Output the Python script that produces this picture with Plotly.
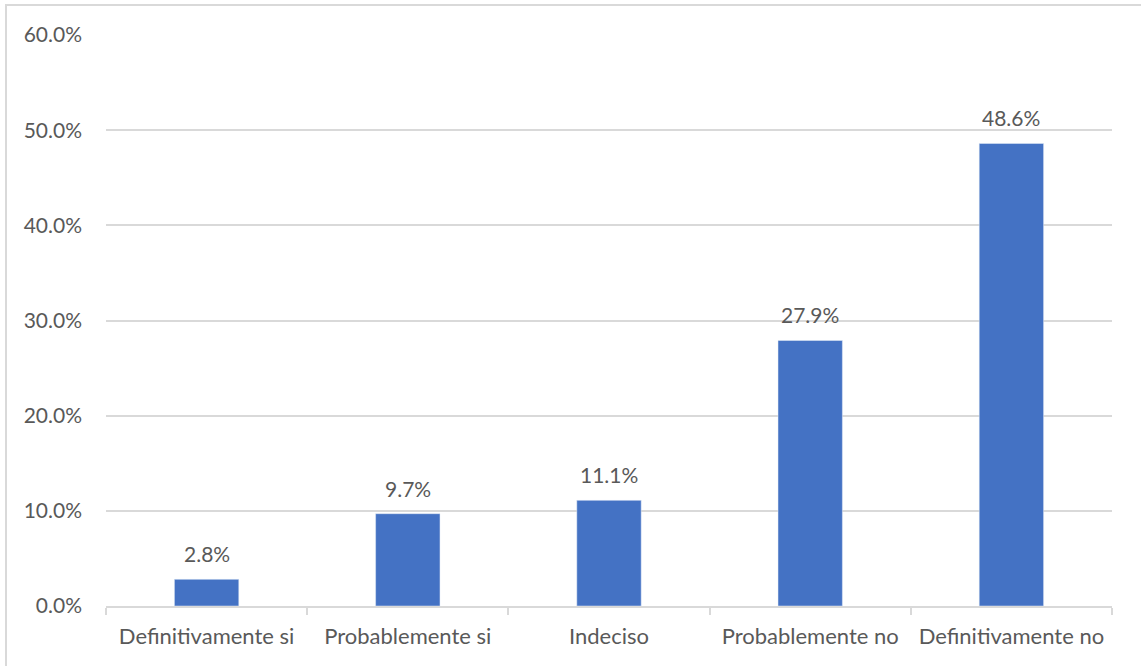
import plotly.graph_objects as go

categories = ["Definitivamente si", "Probablemente si", "Indeciso", "Probablemente no", "Definitivamente no"]
values = [2.8, 9.7, 11.1, 27.9, 48.6]
tick_vals = [0, 10, 20, 30, 40, 50, 60]
tick_text = ["0.0%", "10.0%", "20.0%", "30.0%", "40.0%", "50.0%", "60.0%"]

FONT = "Lato, Calibri, Carlito, sans-serif"
GREY = "#595959"
LINE = "#d9d9d9"
FS_NUM = 21
FS_CAT = 22

fig = go.Figure(go.Bar(
    x=categories,
    y=values,
    marker_color="#4472C4",
    width=0.32,
    cliponaxis=False,
))

for c, v in zip(categories, values):
    fig.add_annotation(
        x=c, y=v, xref="x", yref="y", text=f"{v:.1f}%",
        showarrow=False, yanchor="bottom", yshift=11,
        font=dict(family=FONT, size=FS_NUM, color=GREY),
    )

L, R, T, B = 106, 29, 35, 60
pw, ph = 1141 - L - R, 666 - T - B

fig.update_layout(
    width=1141, height=666,
    margin=dict(l=L, r=R, t=T, b=B, pad=0),
    paper_bgcolor="white", plot_bgcolor="white",
    showlegend=False,
    font=dict(family=FONT, size=FS_NUM, color=GREY),
    xaxis=dict(
        showline=True, linecolor=LINE, linewidth=1.5,
        ticks="outside", tickson="boundaries", ticklen=7, tickcolor=LINE, tickwidth=1.5,
        showgrid=False,
        ticklabelstandoff=10,
        tickfont=dict(family=FONT, size=FS_CAT, color=GREY),
    ),
    yaxis=dict(
        range=[0, 60], tickvals=tick_vals, ticktext=tick_text,
        showgrid=True, gridcolor=LINE, gridwidth=1.5,
        zeroline=False, showline=False, ticks="",
        ticklabelstandoff=23,
        tickfont=dict(family=FONT, size=FS_NUM, color=GREY),
    ),
    shapes=[dict(
        type="rect", xref="paper", yref="paper",
        x0=(6 - L) / pw, x1=(1150 - L) / pw,
        y0=(606 - 680) / ph, y1=(606 - 5) / ph,
        line=dict(color=LINE, width=2), fillcolor="rgba(0,0,0,0)", layer="below",
    )],
)

fig.write_html("out.html", config={"displayModeBar": False},
               post_script="document.body.style.margin='0';")
